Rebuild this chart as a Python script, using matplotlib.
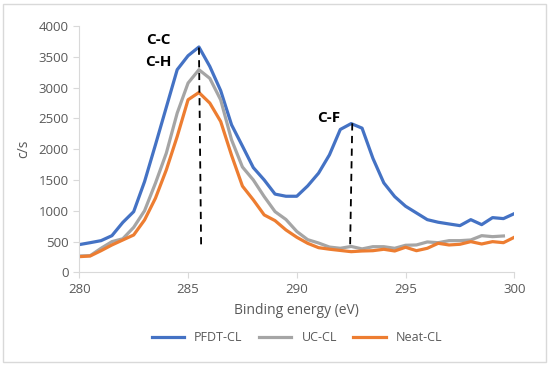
import numpy as np
import matplotlib
matplotlib.use("Agg")
import matplotlib.pyplot as plt
from matplotlib.patches import Rectangle

# Binding energy grid (eV) and XPS C1s intensities (c/s)
energy = np.arange(280, 300.01, 0.5)
pfdt_cl = [450, 481, 514, 595, 810, 985, 1473, 2070, 2680, 3290, 3517, 3659,
           3343, 2950, 2395, 2050, 1700, 1500, 1270, 1235, 1235, 1403, 1610,
           1907, 2320, 2415, 2341, 1850, 1452, 1230, 1073, 964, 855, 813, 785,
           758, 855, 774, 888, 872, 953]
uc_cl = [265, 270, 390, 498, 545, 730, 1000, 1447, 1935, 2585, 3073, 3290,
         3150, 2800, 2151, 1710, 1500, 1230, 985, 858, 663, 530, 476, 410,
         390, 420, 380, 416, 416, 390, 439, 444, 493, 481, 514, 514, 525, 595,
         579, 590]
neat_cl = [254, 265, 351, 444, 525, 606, 850, 1203, 1663, 2205, 2802, 2920,
           2748, 2449, 1900, 1400, 1176, 932, 839, 688, 569, 471, 400, 375,
           355, 335, 346, 351, 374, 346, 407, 351, 390, 471, 444, 455, 498,
           460, 498, 481, 569]

# peak markers: (x_top, y_top, x_bottom, y_bottom)
peak_cc = (285.5, 3650, 285.6, 450)
peak_cf = (292.55, 2420, 292.45, 400)

plt.rcParams["font.family"] = ["Open Sans", "DejaVu Sans"]

fig = plt.figure(figsize=(5.5, 3.66), dpi=100)
ax = fig.add_axes([0.1442, 0.256, 0.7909, 0.673])

ax.plot(energy, pfdt_cl, color="#4472C4", lw=2.3, label="PFDT-CL")
ax.plot(energy[:len(uc_cl)], uc_cl, color="#A5A5A5", lw=2.3, label="UC-CL")
ax.plot(energy, neat_cl, color="#ED7D31", lw=2.3, label="Neat-CL")

for x0, y0, x1, y1 in (peak_cc, peak_cf):
    ax.plot([x0, x1], [y0, y1], color="black", lw=1.3, ls=(0, (4, 3)))

ax.text(283.65, 3780, "C-C", fontsize=11, fontweight="bold", ha="center", va="center")
ax.text(283.65, 3420, "C-H", fontsize=11, fontweight="bold", ha="center", va="center")
ax.text(291.45, 2500, "C-F", fontsize=11, fontweight="bold", ha="center", va="center")

ax.set_xlim(280, 300)
ax.set_ylim(0, 4000)
ax.set_xticks(range(280, 301, 5))
ax.set_yticks(range(0, 4001, 500))
for side in ("top", "right"):
    ax.spines[side].set_visible(False)
for side in ("left", "bottom"):
    ax.spines[side].set_color("#d9d9d9")
ax.tick_params(colors="#d9d9d9", labelcolor="#595959", labelsize=9.5, length=4)
ax.set_xlabel("Binding energy (eV)", color="#595959", fontsize=10, labelpad=5)
ax.set_ylabel("c/s", color="#595959", fontsize=10, labelpad=5)

fig.legend(loc="center", bbox_to_anchor=(0.54, 0.077), ncol=3, frameon=False,
           fontsize=9, handlelength=2.6, columnspacing=1.3, labelcolor="#595959")

fig.patches.append(Rectangle((0.006, 0.012), 0.986, 0.978, transform=fig.transFigure,
                             fill=False, edgecolor="#d9d9d9", lw=1))

fig.savefig("out.png", dpi=100)
